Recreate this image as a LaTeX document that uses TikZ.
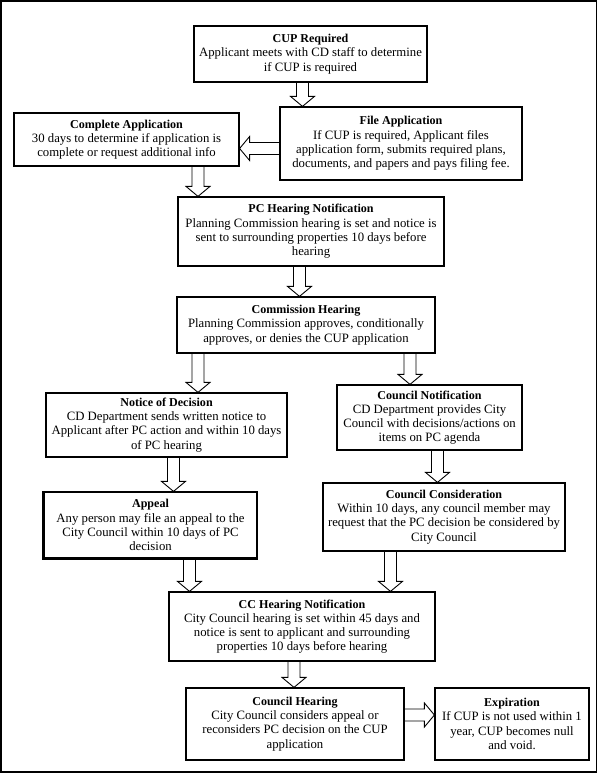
\documentclass[tikz,border=0pt]{standalone}
\usepackage{fontspec}
\setmainfont{Liberation Serif}
\usetikzlibrary{calc}
\newcommand{\ttl}[1]{{\fontsize{12.1}{14.3}\selectfont\textbf{#1}}}
\tikzset{
  box/.style={draw=black, line width=1.2bp, align=center, inner sep=2bp,
    font=\fontsize{12.8}{14.3}\selectfont},
  blockarr/.style={draw=black, line width=0.9bp, line join=miter,
    to path={
      ($(\tikztotarget)!10bp!(\tikztostart)$) coordinate (hb)
      ($(\tikztostart)!6bp!90:(\tikztotarget)$)
      -- ($(hb)!6bp!90:(\tikztotarget)$)
      -- ($(hb)!12bp!90:(\tikztotarget)$)
      -- (\tikztotarget)
      -- ($(hb)!12bp!-90:(\tikztotarget)$)
      -- ($(hb)!6bp!-90:(\tikztotarget)$)
      -- ($(\tikztostart)!6bp!-90:(\tikztotarget)$)
    }}
}
\begin{document}
\begin{tikzpicture}[x=1bp,y=-1bp]
\useasboundingbox (0,0) rectangle (598,773);
\fill[white] (0,0) rectangle (598,773);
\draw[line width=1.6bp] (0.9,0.9) rectangle (596.6,771.8);

\node[box, minimum width=233bp, minimum height=56bp] (cup) at (310.5,54)
  {\ttl{CUP Required}\\Applicant meets with CD staff to determine\\if CUP is required};
\node[box, minimum width=242bp, minimum height=73bp] (file) at (401,143.5)
  {\ttl{File Application}\\If CUP is required, Applicant files\\application form, submits required plans,\\documents, and papers and pays filing fee.};
\node[box, minimum width=225bp, minimum height=53bp] (complete) at (126.5,139.5)
  {\ttl{Complete Application}\\30 days to determine if application is\\complete or request additional info};
\node[box, minimum width=266bp, minimum height=69bp] (pc) at (311,231.5)
  {\ttl{PC Hearing Notification}\\Planning Commission hearing is set and notice is\\sent to surrounding properties 10 days before\\hearing};
\node[box, minimum width=258bp, minimum height=56bp] (comm) at (306,325)
  {\ttl{Commission Hearing}\\Planning Commission approves, conditionally\\approves, or denies the CUP application};
\node[box, minimum width=241bp, minimum height=64bp] (notice) at (166.5,425)
  {\ttl{Notice of Decision}\\CD Department sends written notice to\\Applicant after PC action and within 10 days\\of PC hearing};
\node[box, minimum width=185bp, minimum height=65bp] (cn) at (429.5,417.5)
  {\ttl{Council Notification}\\CD Department provides City\\Council with decisions/actions on\\items on PC agenda};
\node[box, minimum width=213bp, minimum height=66bp] (appeal) at (150.5,525)
  {\ttl{Appeal}\\Any person may file an appeal to the\\City Council within 10 days of PC\\decision};
\draw[line width=1.6bp] ([xshift=-1bp]appeal.north west) -- ([xshift=-1bp,yshift=-1bp]appeal.south west) -- ([yshift=-1bp]appeal.south east);
\node[box, minimum width=242bp, minimum height=68bp] (ccons) at (444,517)
  {\ttl{Council Consideration}\\Within 10 days, any council member may\\request that the PC decision be considered by\\City Council};
\node[box, minimum width=266bp, minimum height=69bp] (cc) at (302,626.5)
  {\ttl{CC Hearing Notification}\\City Council hearing is set within 45 days and\\notice is sent to applicant and surrounding\\properties 10 days before hearing};
\node[box, minimum width=218bp, minimum height=72bp] (ch) at (295,724)
  {\ttl{Council Hearing}\\City Council considers appeal or\\reconsiders PC decision on the CUP\\application};
\node[box, minimum width=154bp, minimum height=72bp] (exp) at (512,724)
  {\ttl{Expiration}\\If CUP is not used within 1\\year, CUP becomes null\\and void.};

\draw[blockarr] ([xshift=-8bp]cup.south) to ([xshift=-8bp]cup.south |- file.north);
\draw[blockarr] ([yshift=-5bp]file.west) to ([yshift=-5bp]file.west -| complete.east);
\draw[blockarr] ([xshift=-113bp]pc.north |- complete.south) to ([xshift=-113bp]pc.north);
\draw[blockarr] ([xshift=-6.5bp]comm.north |- pc.south) to ([xshift=-6.5bp]comm.north);
\draw[blockarr] ([xshift=31.5bp]notice.north |- comm.south) to ([xshift=31.5bp]notice.north);
\draw[blockarr] ([xshift=-19.5bp]cn.north |- comm.south) to ([xshift=-19.5bp]cn.north);
\draw[blockarr] ([xshift=23bp]appeal.north |- notice.south) to ([xshift=23bp]appeal.north);
\draw[blockarr] ([xshift=-6.5bp]ccons.north |- cn.south) to ([xshift=-6.5bp]ccons.north);
\draw[blockarr] ([xshift=-112.5bp]cc.north |- appeal.south) to ([xshift=-112.5bp]cc.north);
\draw[blockarr] ([xshift=88.5bp]cc.north |- ccons.south) to ([xshift=88.5bp]cc.north);
\draw[blockarr] ([xshift=-1bp]ch.north |- cc.south) to ([xshift=-1bp]ch.north);
\draw[blockarr] ([yshift=9bp]ch.east) to ([yshift=9bp]ch.east -| exp.west);
\end{tikzpicture}
\end{document}
